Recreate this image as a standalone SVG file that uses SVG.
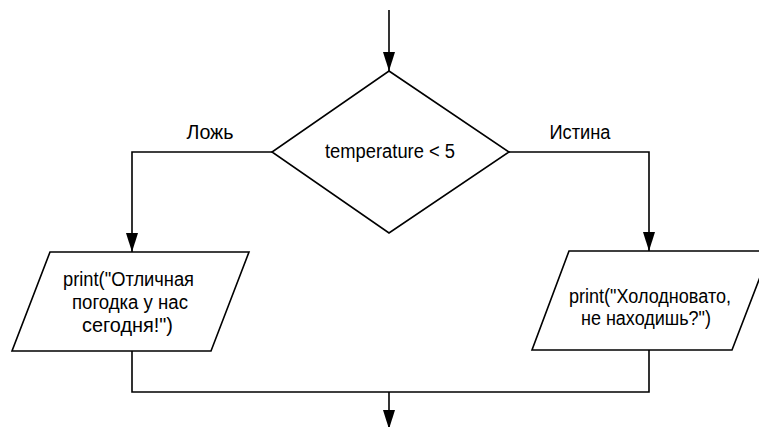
<svg xmlns="http://www.w3.org/2000/svg" width="759" height="427" viewBox="0 0 759 427">
<style>
.shape{fill:#fff;stroke:#000;stroke-width:1.6;stroke-linejoin:miter}
.line{fill:none;stroke:#000;stroke-width:1.6}
.arrow{marker-end:url(#arr)}
.t{font-family:"Liberation Sans",Arial,sans-serif;font-size:19.5px;fill:#000;text-anchor:middle}
</style>
<defs>
<marker id="arr" viewBox="0 0 19 12" refX="19" refY="6" markerWidth="19" markerHeight="12" markerUnits="userSpaceOnUse" orient="auto">
<path d="M0,0 L19,6 L0,12 Z" fill="#000"/>
</marker>
</defs>
<g id="connectors">
<line class="line arrow" x1="389" y1="10" x2="389" y2="71"/>
<polyline class="line arrow" points="272,152 132,152 132,252"/>
<polyline class="line arrow" points="509,152 649,152 649,251"/>
<polyline class="line" points="132,351 132,392 649,392 649,350"/>
<line class="line arrow" x1="389" y1="392" x2="389" y2="429"/>
<text class="t" x="210" y="139" textLength="47" lengthAdjust="spacingAndGlyphs">Ложь</text>
<text class="t" x="580" y="139" textLength="61" lengthAdjust="spacingAndGlyphs">Истина</text>
</g>
<g id="decision">
<polygon class="shape" points="389,71 509,152 389,233 272,152"/>
<text class="t" x="390" y="158" textLength="130" lengthAdjust="spacingAndGlyphs">temperature &lt; 5</text>
</g>
<g id="output-false">
<polygon class="shape" points="50,252 249,252 211,351 12,351"/>
<text class="t" x="128.5" y="286" textLength="131" lengthAdjust="spacingAndGlyphs">print("Отличная</text>
<text class="t" x="130" y="309" textLength="116" lengthAdjust="spacingAndGlyphs">погодка у нас</text>
<text class="t" x="127.5" y="332" textLength="91" lengthAdjust="spacingAndGlyphs">сегодня!")</text>
</g>
<g id="output-true">
<polygon class="shape" points="569,251 770,251 732,350 532,350"/>
<text class="t" x="650" y="303" textLength="162" lengthAdjust="spacingAndGlyphs">print("Холодновато,</text>
<text class="t" x="646" y="325" textLength="130" lengthAdjust="spacingAndGlyphs">не находишь?")</text>
</g>
</svg>
